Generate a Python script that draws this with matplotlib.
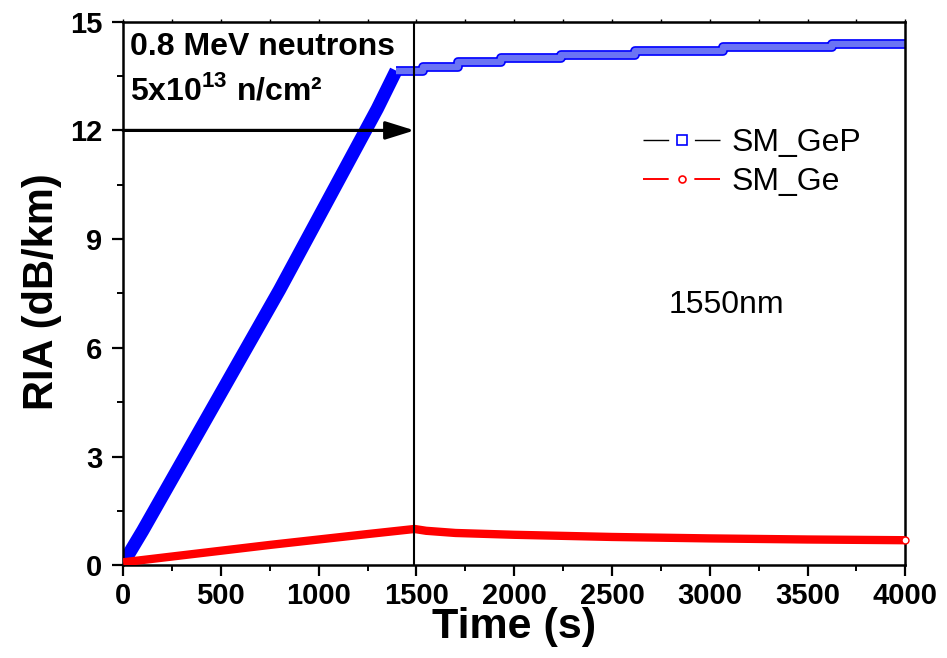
import numpy as np
import matplotlib
matplotlib.use('Agg')
import matplotlib.pyplot as plt
import matplotlib.patheffects as pe
from matplotlib.lines import Line2D

plt.rcParams['font.family'] = ['Liberation Sans', 'DejaVu Sans']
plt.rcParams['mathtext.fontset'] = 'custom'
plt.rcParams['mathtext.rm'] = 'Liberation Sans'
plt.rcParams['mathtext.bf'] = 'Liberation Sans:bold'

# SM_GeP : linear rise during irradiation, then stepwise plateau
gep_rise_t = [0, 100, 200, 300, 400, 500, 600, 700, 800, 900, 1000, 1100, 1200, 1300, 1396]
gep_rise_v = [0.05, 0.95, 1.9, 2.85, 3.8, 4.75, 5.7, 6.65, 7.6, 8.6, 9.6, 10.6, 11.6, 12.6, 13.65]
gep_step_t = [1396, 1535, 1714, 1934, 2240, 2619, 3069, 3627, 4000]
gep_step_v = [13.65, 13.76, 13.88, 13.99, 14.09, 14.19, 14.29, 14.38, 14.38]

# SM_Ge
ge_t = [0, 250, 500, 750, 1000, 1250, 1490, 1550, 1700, 2000, 2500, 3000, 3500, 4000]
ge_v = [0.08, 0.24, 0.4, 0.56, 0.71, 0.86, 1.0, 0.95, 0.89, 0.84, 0.78, 0.74, 0.71, 0.69]

t_stop = 1490

fig = plt.figure(figsize=(9.47, 6.58), dpi=100)
ax = fig.add_axes([0.130, 0.141, 0.826, 0.826])

ax.plot(gep_rise_t, gep_rise_v, color='blue', lw=9.5, solid_capstyle='butt', zorder=2)
ax.plot(gep_step_t, gep_step_v, drawstyle='steps-post', color='#6b74f4', lw=4.6,
        solid_capstyle='butt', zorder=2,
        path_effects=[pe.Stroke(linewidth=7, foreground='blue'), pe.Normal()])
ax.plot(ge_t, ge_v, color='red', lw=6, solid_capstyle='butt', zorder=3)
ax.plot(ge_t[-1:], ge_v[-1:], 'o', ms=5, mfc='white', mec='red', zorder=4, clip_on=False)

ax.axvline(t_stop, color='black', lw=1.5, zorder=5)
ax.annotate('', xy=(t_stop, 12), xytext=(0, 12),
            arrowprops=dict(arrowstyle='-|>,head_length=0.8,head_width=0.25',
                            mutation_scale=22, lw=2.3, color='black',
                            shrinkA=0, shrinkB=0), zorder=6)

ax.set_xlim(0, 4000)
ax.set_ylim(0, 15)
ax.set_xticks(np.arange(0, 4001, 500))
ax.set_xticks(np.arange(250, 4000, 500), minor=True)
ax.set_yticks(np.arange(0, 16, 3))
ax.set_yticks(np.arange(1.5, 15, 3), minor=True)
ax.tick_params(which='major', direction='out', length=8, width=1.6, labelsize=21)
ax.tick_params(axis='x', which='major', pad=4)
ax.tick_params(axis='y', which='major', pad=7)
ax.tick_params(which='minor', direction='out', length=4, width=1.4)
for lab in ax.get_xticklabels() + ax.get_yticklabels():
    lab.set_fontweight('bold')
for s in ax.spines.values():
    s.set_linewidth(1.8)

top = ax.secondary_xaxis('top')
top.set_xticks(np.arange(0, 4001, 250))
top.tick_params(direction='out', length=2, width=1, labeltop=False)

fig.text(514 / 947, 0.030, 'Time (s)', ha='center', va='baseline',
         fontsize=31, fontweight='bold')
fig.text(42 / 947, 1 - 292 / 658, 'RIA (dB/km)', rotation=90, ha='center', va='center',
         fontsize=30, fontweight='bold')

ax.text(0.009, 0.939, '0.8 MeV neutrons', transform=ax.transAxes,
        fontsize=23, fontweight='bold', va='baseline')
ax.text(0.009, 0.856, r'5x10$^{\mathbf{13}}$ n/cm²', transform=ax.transAxes,
        fontsize=23, fontweight='bold', va='baseline')
ax.text(0.697, 0.464, '1550nm', transform=ax.transAxes, fontsize=23, va='baseline')

handles = [
    Line2D([], [], color='black', lw=1.0, ls=(0, (18.5, 18.5, 18.5, 100)),
           marker='s', ms=7, mfc='white', mec='blue', mew=1.2),
    Line2D([], [], color='red', lw=1.4, ls=(0, (13.2, 13.2, 13.2, 80)),
           marker='o', ms=5, mfc='white', mec='red', mew=1.2),
]
ax.legend(handles, ['SM_GeP', 'SM_Ge'], loc='upper left', bbox_to_anchor=(0.665, 0.805),
          frameon=False, fontsize=23, borderpad=0, borderaxespad=0,
          handlelength=2.4, handletextpad=0.35, labelspacing=0.3)

fig.savefig('out.png', dpi=100)
